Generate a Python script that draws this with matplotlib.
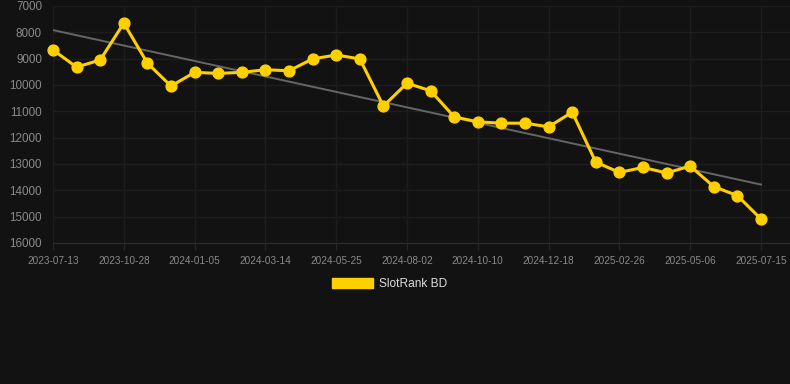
import numpy as np
import matplotlib
matplotlib.use("Agg")
import matplotlib.pyplot as plt
from matplotlib.patches import Patch

plt.rcParams['font.family'] = ['Liberation Sans', 'DejaVu Sans']

# rank values (lower is better, axis is inverted)
ranks = [8670, 9320, 9050, 7650, 9170, 10040, 9520, 9560, 9520, 9420,
         9460, 9010, 8860, 9010, 10800, 9930, 10220, 11210, 11400, 11450,
         11450, 11590, 11030, 12930, 13320, 13130, 13340, 13080, 13860, 14200,
         15090]
tick_labels = ['2023-07-13', '2023-10-28', '2024-01-05', '2024-03-14', '2024-05-25',
               '2024-08-02', '2024-10-10', '2024-12-18', '2025-02-26', '2025-05-06',
               '2025-07-15']
series_name = 'SlotRank BD'

bg = '#121212'
yellow = '#FFD000'
x = np.arange(len(ranks))

fig = plt.figure(figsize=(7.9, 3.84), dpi=100, facecolor=bg)
ax = fig.add_axes([53 / 790, 1 - 243 / 384, 1 - 53 / 790, 237 / 384])
ax.set_facecolor(bg)

# trend line (linear fit)
k, b = np.polyfit(x, ranks, 1)
ax.plot(x, k * x + b, color='#666666', linewidth=1.4, zorder=2)

ax.plot(x, ranks, color=yellow, linewidth=2.2, marker='o', markersize=7.8,
        zorder=3, clip_on=False)

ax.set_ylim(16000, 7000)
ax.set_yticks(range(7000, 16001, 1000))
ax.set_xlim(0, 30 + 29 / 23.6)
ax.set_xticks(x[::3])
ax.set_xticklabels(tick_labels)

ax.grid(True, color='#1d1d1d', linewidth=1)
ax.set_axisbelow(True)
for s in ['top', 'right', 'left']:
    ax.spines[s].set_visible(False)
ax.spines['bottom'].set_color('#2e2e2e')

ax.tick_params(axis='y', length=0, pad=8, labelsize=8.4, labelcolor='#8a8a8a')
ax.tick_params(axis='x', length=5, color='#262626', pad=4, labelsize=7.2,
               labelcolor='#8a8a8a')

handle = Patch(facecolor=yellow, edgecolor=yellow)
fig.legend([handle], [series_name], loc='center', bbox_to_anchor=(0.493, 0.26),
           frameon=False, fontsize=8.6, labelcolor='#dddddd',
           handlelength=3.4, handleheight=0.95, handletextpad=0.5)

fig.savefig('out.png', dpi=100, facecolor=bg)
